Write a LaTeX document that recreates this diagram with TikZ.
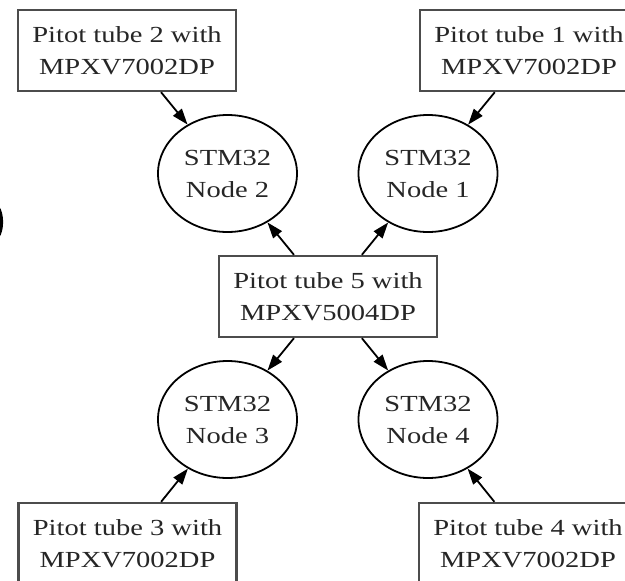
\documentclass[tikz,border=0pt]{standalone}
\usepackage{fontspec}
\setmainfont{Liberation Serif}
\usetikzlibrary{shapes.geometric,arrows.meta}
\newcommand{\sx}[1]{\scalebox{1.24}[1]{#1}}
\tikzset{
  txt/.style={font=\fontsize{23}{32}\selectfont, align=center, text=black!85},
  tubebox/.style={txt, draw=black!70, line width=2.4pt, rectangle, minimum width=218pt, minimum height=81pt, inner sep=0pt},
  stmnode/.style={txt, draw=black, line width=1.8pt, ellipse, minimum width=139pt, minimum height=117pt, inner sep=0pt},
  link/.style={line width=1.8pt, draw=black, -{Triangle[length=16pt,width=11pt]}}
}
\begin{document}
\begin{tikzpicture}[x=1pt,y=-1pt]
\useasboundingbox[fill=white] (0,0) rectangle (625,581);
\clip (0,0) rectangle (625,581);
\node[tubebox] (b2) at (127,50.5) {\sx{Pitot tube 2 with}\\\sx{MPXV7002DP}};
\node[tubebox] (b1) at (529,50.5) {\sx{Pitot tube 1 with}\\\sx{MPXV7002DP}};
\node[tubebox] (b5) at (328,296.5) {\sx{Pitot tube 5 with}\\\sx{MPXV5004DP}};
\node[tubebox] (b3) at (127.5,543.5) {\sx{Pitot tube 3 with}\\\sx{MPXV7002DP}};
\node[tubebox] (b4) at (528,543.5) {\sx{Pitot tube 4 with}\\\sx{MPXV7002DP}};
\node[stmnode] (e2) at (227.5,173.5) {\sx{STM32}\\\sx{Node 2}};
\node[stmnode] (e1) at (428,173.5) {\sx{STM32}\\\sx{Node 1}};
\node[stmnode] (e3) at (227.5,419.5) {\sx{STM32}\\\sx{Node 3}};
\node[stmnode] (e4) at (428,419.5) {\sx{STM32}\\\sx{Node 4}};
\draw[link] (b2) -- (e2);
\draw[link] (b1) -- (e1);
\draw[link] (b5) -- (e2);
\draw[link] (b5) -- (e1);
\draw[link] (b5) -- (e3);
\draw[link] (b5) -- (e4);
\draw[link] (b3) -- (e3);
\draw[link] (b4) -- (e4);
\fill[black] (-1,206) .. controls (4.5,214) and (4.5,230) .. (-1,238) -- (-2,238) .. controls (1,230) and (1,214) .. (-2,206) -- cycle;
\end{tikzpicture}
\end{document}
